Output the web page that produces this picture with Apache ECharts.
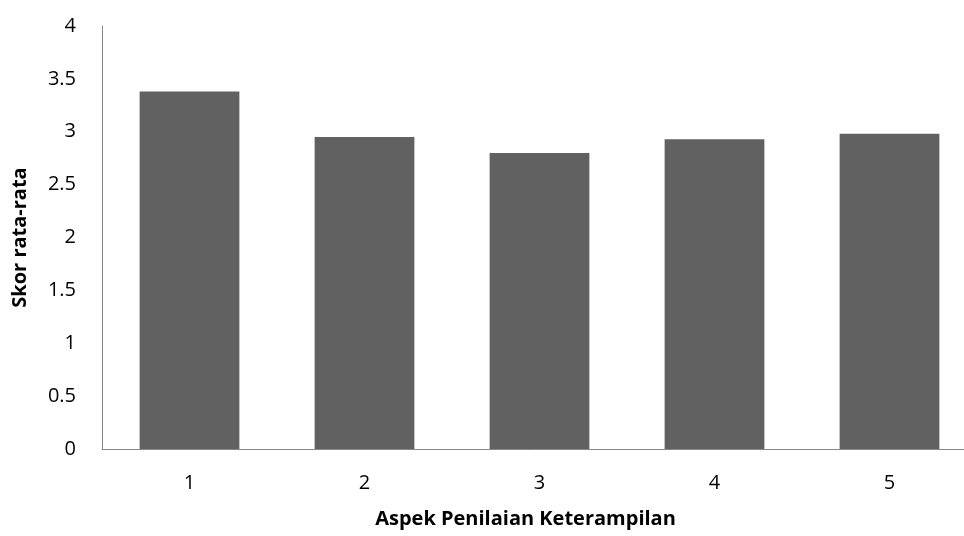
<!DOCTYPE html>
<html><head><meta charset="utf-8">
<script src="https://cdn.jsdelivr.net/npm/echarts@6/dist/echarts.min.js"></script>
<style>html,body{margin:0;padding:0;background:#fff}#c{width:964px;height:536px}</style>
</head><body><div id="c"></div>
<script>
const categories = ['1','2','3','4','5'];
const values = [3.38, 2.95, 2.80, 2.93, 2.98];
const yTicks = [0, 0.5, 1, 1.5, 2, 2.5, 3, 3.5, 4];
const xTitle = 'Aspek Penilaian Keterampilan';
const yTitle = 'Skor rata-rata';
const font = '"Open Sans", "Liberation Sans", sans-serif';
const chart = echarts.init(document.getElementById('c'));
chart.setOption({
  animation: false,
  grid: {left: 102, right: -13, top: 26, bottom: 87, containLabel: false, outerBoundsMode: 'none'},
  xAxis: {
    type: 'category', data: categories,
    name: xTitle, nameLocation: 'middle', nameGap: 60,
    nameTextStyle: {fontFamily: font, fontSize: 20, fontWeight: 'bold', color: '#000', padding: [0, 28, 0, 0]},
    axisLine: {lineStyle: {color: '#888', width: 1}},
    axisTick: {show: false},
    axisLabel: {fontFamily: font, fontSize: 20, color: '#000', margin: 24}
  },
  yAxis: {
    type: 'value', min: 0, max: 4, interval: 0.5,
    name: yTitle, nameLocation: 'middle', nameGap: 72,
    nameTextStyle: {fontFamily: font, fontSize: 20, fontWeight: 'bold', color: '#000'},
    axisLine: {show: true, lineStyle: {color: '#888', width: 1}},
    axisTick: {show: false},
    splitLine: {show: false},
    axisLabel: {fontFamily: font, fontSize: 20, color: '#000', margin: 26,
      formatter: v => yTicks.includes(v) ? String(v) : ''}
  },
  series: [{
    type: 'bar', data: values, barWidth: '57%',
    itemStyle: {color: '#616161'}
  }]
});
</script></body></html>
